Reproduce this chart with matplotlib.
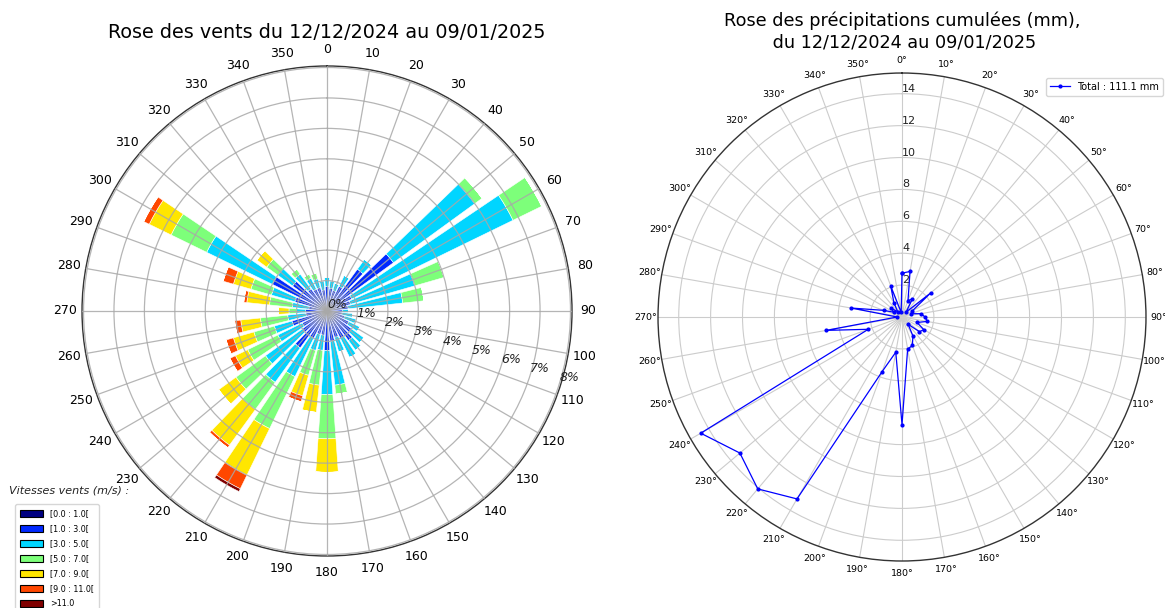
import numpy as np
import matplotlib
matplotlib.use("Agg")
import matplotlib.pyplot as plt
from matplotlib.patches import Patch

# ---- Wind rose data: frequency (%) per direction sector and speed class ----
directions = list(range(0, 360, 10))
speed_labels = ["[0.0 : 1.0[", "[1.0 : 3.0[", "[3.0 : 5.0[", "[5.0 : 7.0[",
                "[7.0 : 9.0[", "[9.0 : 11.0[", ">11.0"]

freq_0_1 = [0.08] * 36
freq_1_3 = [0.72, 0.67, 0.62, 0.82, 1.62, 2.62, 0.82, 0.72, 0.62, 0.42, 0.42, 0.52,
            0.72, 0.92, 1.12, 0.92, 0.82, 0.92, 1.22, 0.72, 0.72, 0.92, 1.42, 0.92,
            0.82, 1.12, 0.62, 0.62, 0.52, 1.02, 1.92, 1.32, 0.82, 0.72, 0.72, 0.62]
freq_3_5 = [0.30, 0.25, 0.25, 0.40, 0.40, 3.30, 5.90, 2.20, 1.80, 0.20, 0.35, 0.40,
            0.40, 0.50, 0.40, 0.70, 0.50, 1.45, 1.45, 0.50, 0.55, 1.40, 1.40, 1.50,
            0.90, 0.60, 0.60, 0.30, 0.55, 0.80, 2.40, 0.60, 0.60, 0.40, 0.30, 0.30]
freq_5_7 = [0.00, 0.00, 0.00, 0.00, 0.00, 0.30, 1.05, 1.00, 0.70, 0.00, 0.00, 0.00,
            0.00, 0.00, 0.00, 0.00, 0.00, 0.30, 1.45, 1.15, 0.85, 1.90, 1.10, 1.20,
            1.10, 0.70, 0.90, 0.25, 0.75, 0.70, 1.30, 0.45, 0.20, 0.15, 0.20, 0.00]
freq_7_9 = [0.00, 0.00, 0.00, 0.00, 0.00, 0.00, 0.00, 0.00, 0.00, 0.00, 0.00, 0.00,
            0.00, 0.00, 0.00, 0.00, 0.00, 0.00, 1.10, 0.90, 0.70, 1.70, 1.45, 0.70,
            0.45, 0.70, 0.65, 0.35, 0.75, 0.60, 0.80, 0.40, 0.00, 0.00, 0.00, 0.00]
freq_9_11 = [0.00, 0.00, 0.00, 0.00, 0.00, 0.00, 0.00, 0.00, 0.00, 0.00, 0.00, 0.00,
             0.00, 0.00, 0.00, 0.00, 0.00, 0.00, 0.00, 0.00, 0.20, 0.50, 0.10, 0.00,
             0.20, 0.25, 0.20, 0.00, 0.10, 0.35, 0.20, 0.00, 0.00, 0.00, 0.00, 0.00]
freq_11_up = [0.00] * 21 + [0.10] + [0.00] * 14

speed_classes = [freq_0_1, freq_1_3, freq_3_5, freq_5_7, freq_7_9, freq_9_11, freq_11_up]

# ---- Cumulative rainfall (mm) per wind direction ----
rain_directions = list(range(0, 360, 10))
rain_mm = [2.75, 2.90, 1.10, 1.30, 0.40, 2.35, 0.72, 0.60, 1.20, 1.45, 1.60, 1.00,
           1.58, 1.43, 0.60, 1.37, 1.90, 2.04, 6.74, 2.24, 3.64, 13.17, 14.07, 13.27,
           14.57, 2.25, 4.83, 0.30, 3.24, 1.22, 0.60, 0.90, 0.40, 1.00, 2.07, 0.30]

title_left = "Rose des vents du 12/12/2024 au 09/01/2025"
title_right = "Rose des précipitations cumulées (mm),\n du 12/12/2024 au 09/01/2025"

colors = plt.cm.jet(np.linspace(0, 1, len(speed_classes)))

fig = plt.figure(figsize=(11.65, 6.08), dpi=100)

# ---------------- Wind rose ----------------
ax1 = fig.add_axes([0.0704, 0.0855, 0.4206, 0.806], projection="polar")
ax1.set_theta_zero_location("N")
ax1.set_theta_direction(-1)
theta = np.deg2rad(directions)
width = np.deg2rad(10) * 0.8
bottom = np.zeros(len(directions))
for vals, col in zip(speed_classes, colors):
    vals = np.asarray(vals)
    ax1.bar(theta, vals, width=width, bottom=bottom, color=col,
            edgecolor="white", linewidth=0.4, zorder=1)
    bottom += vals

ax1.set_axisbelow(False)
ax1.set_ylim(0, 8.05)
ax1.set_xticks(np.deg2rad(directions))
ax1.set_xticklabels([str(d) for d in directions], fontsize=9)
ax1.set_rgrids(np.arange(0, 9), labels=[f"{i}%" for i in range(9)],
               angle=107.5, fontsize=9, fontstyle="italic", color="#222222")
ax1.grid(True, color="#a8a8a8", linewidth=0.9, alpha=0.85)
ax1.spines["polar"].set_color("#333333")
ax1.spines["polar"].set_linewidth(1.0)
ax1.tick_params(axis="x", pad=1.5)
fig.text(327 / 1165, 1 - 33 / 608, title_left, fontsize=13.8,
         ha="center", va="center")

handles = [Patch(facecolor=c, edgecolor="black", linewidth=0.8) for c in colors]
fig.text(0.008, 0.188, "Vitesses vents (m/s) :", fontsize=8, fontstyle="italic",
         color="#222222")
fig.legend(handles, speed_labels, loc="upper left",
           bbox_to_anchor=(0.0129, 0.171), borderaxespad=0, fontsize=5.8,
           handlelength=2.9, handleheight=1.0, labelspacing=0.75,
           frameon=True, borderpad=0.6)

# ---------------- Rain rose ----------------
ax2 = fig.add_axes([0.5648, 0.0773, 0.4189, 0.8026], projection="polar")
ax2.set_theta_zero_location("N")
ax2.set_theta_direction(-1)
rt = np.deg2rad(rain_directions + [rain_directions[0]])
rv = rain_mm + [rain_mm[0]]
total = sum(rain_mm)
ax2.plot(rt, rv, color="blue", marker=".", markersize=4, linewidth=0.9,
         label=f"Total : {total:.1f} mm")
ax2.set_ylim(0, max(rain_mm) * 1.05)
ax2.set_xticks(np.deg2rad(rain_directions))
ax2.set_xticklabels([f"{d}°" for d in rain_directions], fontsize=6.8)
ax2.tick_params(axis="x", pad=-1.5)
ax2.set_yticks(np.arange(2, 15, 2))
ax2.set_yticklabels([str(v) for v in range(2, 15, 2)], fontsize=8, color="#222222")
ax2.set_rlabel_position(0)
ax2.grid(True, color="#cccccc", linewidth=0.8)
ax2.spines["polar"].set_linewidth(1.0)
ax2.spines["polar"].set_color("#333333")
fig.text(902 / 1165, 1 - 31.5 / 608, title_right, fontsize=12.7,
         ha="center", va="center", multialignment="center")
ax2.legend(loc="upper right", bbox_to_anchor=(1.035, 0.99), borderaxespad=0,
           fontsize=7, handlelength=2.0)

fig.savefig("out.png", dpi=100)
